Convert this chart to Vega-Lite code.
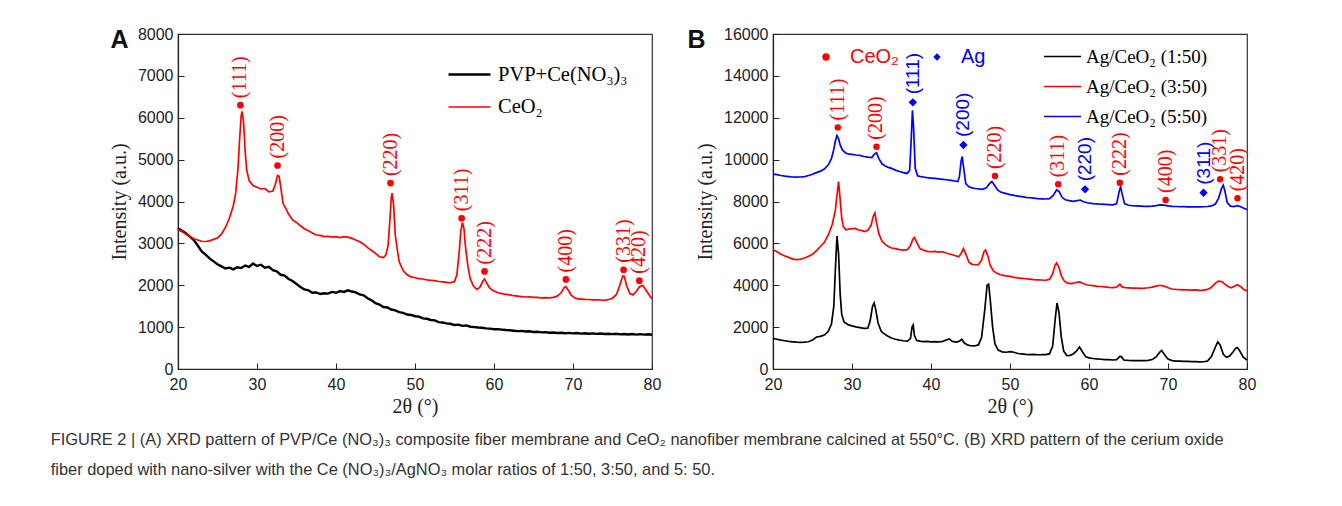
{
"$schema": "https://vega.github.io/schema/vega-lite/v6.json",
"background": "white",
"padding": {"left": 50, "top": 25, "right": 5, "bottom": 2},
"bounds": "flush",
"spacing": 121,
"resolve": {"scale": {"stroke": "independent", "fill": "independent", "shape": "independent", "strokeWidth": "independent"}, "legend": {"stroke": "independent", "fill": "independent", "shape": "independent"}},
"title": {"text": ["FIGURE 2 | (A) XRD pattern of PVP/Ce (NO₃)₃ composite fiber membrane and CeO₂ nanofiber membrane calcined at 550°C. (B) XRD pattern of the cerium oxide", "fiber doped with nano-silver with the Ce (NO₃)₃/AgNO₃ molar ratios of 1:50, 3:50, and 5: 50."], "orient": "bottom", "anchor": "start", "frame": "bounds", "font": "Liberation Sans", "fontSize": 16.4, "fontWeight": "normal", "color": "#333333", "lineHeight": 30, "offset": 15, "dx": -58},
"datasets": {
"A_lines": [
{"x":20,"y":3360,"s":"PVP+Ce(NO₃)₃"},{"x":20.5,"y":3300,"s":"PVP+Ce(NO₃)₃"},{"x":21,"y":3240,"s":"PVP+Ce(NO₃)₃"},{"x":21.5,"y":3160,"s":"PVP+Ce(NO₃)₃"},{"x":22,"y":3080,"s":"PVP+Ce(NO₃)₃"},{"x":22.5,"y":2950,"s":"PVP+Ce(NO₃)₃"},{"x":23,"y":2810,"s":"PVP+Ce(NO₃)₃"},{"x":23.5,"y":2730,"s":"PVP+Ce(NO₃)₃"},{"x":24,"y":2640,"s":"PVP+Ce(NO₃)₃"},{"x":24.5,"y":2570,"s":"PVP+Ce(NO₃)₃"},{"x":25,"y":2500,"s":"PVP+Ce(NO₃)₃"},{"x":25.5,"y":2450,"s":"PVP+Ce(NO₃)₃"},{"x":26,"y":2400,"s":"PVP+Ce(NO₃)₃"},{"x":26.5,"y":2420,"s":"PVP+Ce(NO₃)₃"},{"x":27,"y":2380,"s":"PVP+Ce(NO₃)₃"},{"x":27.5,"y":2430,"s":"PVP+Ce(NO₃)₃"},{"x":28,"y":2410,"s":"PVP+Ce(NO₃)₃"},{"x":28.5,"y":2470,"s":"PVP+Ce(NO₃)₃"},{"x":29,"y":2440,"s":"PVP+Ce(NO₃)₃"},{"x":29.5,"y":2520,"s":"PVP+Ce(NO₃)₃"},{"x":30,"y":2460,"s":"PVP+Ce(NO₃)₃"},{"x":30.5,"y":2490,"s":"PVP+Ce(NO₃)₃"},{"x":31,"y":2420,"s":"PVP+Ce(NO₃)₃"},{"x":31.5,"y":2440,"s":"PVP+Ce(NO₃)₃"},{"x":32,"y":2360,"s":"PVP+Ce(NO₃)₃"},{"x":32.5,"y":2330,"s":"PVP+Ce(NO₃)₃"},{"x":33,"y":2250,"s":"PVP+Ce(NO₃)₃"},{"x":33.5,"y":2230,"s":"PVP+Ce(NO₃)₃"},{"x":34,"y":2150,"s":"PVP+Ce(NO₃)₃"},{"x":34.5,"y":2100,"s":"PVP+Ce(NO₃)₃"},{"x":35,"y":2030,"s":"PVP+Ce(NO₃)₃"},{"x":35.5,"y":1960,"s":"PVP+Ce(NO₃)₃"},{"x":36,"y":1900,"s":"PVP+Ce(NO₃)₃"},{"x":36.5,"y":1880,"s":"PVP+Ce(NO₃)₃"},{"x":37,"y":1820,"s":"PVP+Ce(NO₃)₃"},{"x":37.5,"y":1830,"s":"PVP+Ce(NO₃)₃"},{"x":38,"y":1790,"s":"PVP+Ce(NO₃)₃"},{"x":38.5,"y":1810,"s":"PVP+Ce(NO₃)₃"},{"x":39,"y":1800,"s":"PVP+Ce(NO₃)₃"},{"x":39.5,"y":1840,"s":"PVP+Ce(NO₃)₃"},{"x":40,"y":1820,"s":"PVP+Ce(NO₃)₃"},{"x":40.5,"y":1860,"s":"PVP+Ce(NO₃)₃"},{"x":41,"y":1840,"s":"PVP+Ce(NO₃)₃"},{"x":41.5,"y":1880,"s":"PVP+Ce(NO₃)₃"},{"x":42,"y":1850,"s":"PVP+Ce(NO₃)₃"},{"x":42.5,"y":1830,"s":"PVP+Ce(NO₃)₃"},{"x":43,"y":1780,"s":"PVP+Ce(NO₃)₃"},{"x":43.5,"y":1760,"s":"PVP+Ce(NO₃)₃"},{"x":44,"y":1690,"s":"PVP+Ce(NO₃)₃"},{"x":44.5,"y":1640,"s":"PVP+Ce(NO₃)₃"},{"x":45,"y":1570,"s":"PVP+Ce(NO₃)₃"},{"x":45.5,"y":1540,"s":"PVP+Ce(NO₃)₃"},{"x":46,"y":1480,"s":"PVP+Ce(NO₃)₃"},{"x":46.5,"y":1470,"s":"PVP+Ce(NO₃)₃"},{"x":47,"y":1420,"s":"PVP+Ce(NO₃)₃"},{"x":47.5,"y":1400,"s":"PVP+Ce(NO₃)₃"},{"x":48,"y":1360,"s":"PVP+Ce(NO₃)₃"},{"x":48.5,"y":1340,"s":"PVP+Ce(NO₃)₃"},{"x":49,"y":1300,"s":"PVP+Ce(NO₃)₃"},{"x":49.5,"y":1290,"s":"PVP+Ce(NO₃)₃"},{"x":50,"y":1260,"s":"PVP+Ce(NO₃)₃"},{"x":50.5,"y":1250,"s":"PVP+Ce(NO₃)₃"},{"x":51,"y":1210,"s":"PVP+Ce(NO₃)₃"},{"x":51.5,"y":1200,"s":"PVP+Ce(NO₃)₃"},{"x":52,"y":1170,"s":"PVP+Ce(NO₃)₃"},{"x":52.5,"y":1160,"s":"PVP+Ce(NO₃)₃"},{"x":53,"y":1120,"s":"PVP+Ce(NO₃)₃"},{"x":53.5,"y":1110,"s":"PVP+Ce(NO₃)₃"},{"x":54,"y":1090,"s":"PVP+Ce(NO₃)₃"},{"x":54.5,"y":1080,"s":"PVP+Ce(NO₃)₃"},{"x":55,"y":1050,"s":"PVP+Ce(NO₃)₃"},{"x":55.5,"y":1060,"s":"PVP+Ce(NO₃)₃"},{"x":56,"y":1030,"s":"PVP+Ce(NO₃)₃"},{"x":56.5,"y":1040,"s":"PVP+Ce(NO₃)₃"},{"x":57,"y":1010,"s":"PVP+Ce(NO₃)₃"},{"x":57.5,"y":1000,"s":"PVP+Ce(NO₃)₃"},{"x":58,"y":990,"s":"PVP+Ce(NO₃)₃"},{"x":58.5,"y":985,"s":"PVP+Ce(NO₃)₃"},{"x":59,"y":970,"s":"PVP+Ce(NO₃)₃"},{"x":59.5,"y":965,"s":"PVP+Ce(NO₃)₃"},{"x":60,"y":950,"s":"PVP+Ce(NO₃)₃"},{"x":60.5,"y":952,"s":"PVP+Ce(NO₃)₃"},{"x":61,"y":940,"s":"PVP+Ce(NO₃)₃"},{"x":61.5,"y":930,"s":"PVP+Ce(NO₃)₃"},{"x":62,"y":925,"s":"PVP+Ce(NO₃)₃"},{"x":62.5,"y":915,"s":"PVP+Ce(NO₃)₃"},{"x":63,"y":905,"s":"PVP+Ce(NO₃)₃"},{"x":63.5,"y":910,"s":"PVP+Ce(NO₃)₃"},{"x":64,"y":895,"s":"PVP+Ce(NO₃)₃"},{"x":64.5,"y":900,"s":"PVP+Ce(NO₃)₃"},{"x":65,"y":885,"s":"PVP+Ce(NO₃)₃"},{"x":65.5,"y":890,"s":"PVP+Ce(NO₃)₃"},{"x":66,"y":875,"s":"PVP+Ce(NO₃)₃"},{"x":66.5,"y":880,"s":"PVP+Ce(NO₃)₃"},{"x":67,"y":865,"s":"PVP+Ce(NO₃)₃"},{"x":67.5,"y":872,"s":"PVP+Ce(NO₃)₃"},{"x":68,"y":860,"s":"PVP+Ce(NO₃)₃"},{"x":68.5,"y":866,"s":"PVP+Ce(NO₃)₃"},{"x":69,"y":855,"s":"PVP+Ce(NO₃)₃"},{"x":69.5,"y":862,"s":"PVP+Ce(NO₃)₃"},{"x":70,"y":850,"s":"PVP+Ce(NO₃)₃"},{"x":70.5,"y":858,"s":"PVP+Ce(NO₃)₃"},{"x":71,"y":845,"s":"PVP+Ce(NO₃)₃"},{"x":71.5,"y":853,"s":"PVP+Ce(NO₃)₃"},{"x":72,"y":842,"s":"PVP+Ce(NO₃)₃"},{"x":72.5,"y":850,"s":"PVP+Ce(NO₃)₃"},{"x":73,"y":838,"s":"PVP+Ce(NO₃)₃"},{"x":73.5,"y":846,"s":"PVP+Ce(NO₃)₃"},{"x":74,"y":835,"s":"PVP+Ce(NO₃)₃"},{"x":74.5,"y":843,"s":"PVP+Ce(NO₃)₃"},{"x":75,"y":832,"s":"PVP+Ce(NO₃)₃"},{"x":75.5,"y":840,"s":"PVP+Ce(NO₃)₃"},{"x":76,"y":828,"s":"PVP+Ce(NO₃)₃"},{"x":76.5,"y":837,"s":"PVP+Ce(NO₃)₃"},{"x":77,"y":825,"s":"PVP+Ce(NO₃)₃"},{"x":77.5,"y":834,"s":"PVP+Ce(NO₃)₃"},{"x":78,"y":822,"s":"PVP+Ce(NO₃)₃"},{"x":78.5,"y":832,"s":"PVP+Ce(NO₃)₃"},{"x":79,"y":820,"s":"PVP+Ce(NO₃)₃"},{"x":79.5,"y":830,"s":"PVP+Ce(NO₃)₃"},{"x":80,"y":818,"s":"PVP+Ce(NO₃)₃"},
{"x":20,"y":3330,"s":"CeO₂"},{"x":20.5,"y":3280,"s":"CeO₂"},{"x":21,"y":3220,"s":"CeO₂"},{"x":21.5,"y":3170,"s":"CeO₂"},{"x":22,"y":3110,"s":"CeO₂"},{"x":22.5,"y":3080,"s":"CeO₂"},{"x":23,"y":3050,"s":"CeO₂"},{"x":23.5,"y":3045,"s":"CeO₂"},{"x":24,"y":3060,"s":"CeO₂"},{"x":24.5,"y":3095,"s":"CeO₂"},{"x":25,"y":3130,"s":"CeO₂"},{"x":25.5,"y":3220,"s":"CeO₂"},{"x":26,"y":3380,"s":"CeO₂"},{"x":26.5,"y":3600,"s":"CeO₂"},{"x":27,"y":3900,"s":"CeO₂"},{"x":27.3,"y":4200,"s":"CeO₂"},{"x":27.6,"y":4800,"s":"CeO₂"},{"x":27.8,"y":5500,"s":"CeO₂"},{"x":28,"y":6050,"s":"CeO₂"},{"x":28.1,"y":6150,"s":"CeO₂"},{"x":28.3,"y":5900,"s":"CeO₂"},{"x":28.5,"y":5200,"s":"CeO₂"},{"x":28.7,"y":4750,"s":"CeO₂"},{"x":29,"y":4500,"s":"CeO₂"},{"x":29.5,"y":4380,"s":"CeO₂"},{"x":30,"y":4340,"s":"CeO₂"},{"x":30.5,"y":4300,"s":"CeO₂"},{"x":31,"y":4310,"s":"CeO₂"},{"x":31.5,"y":4230,"s":"CeO₂"},{"x":32,"y":4250,"s":"CeO₂"},{"x":32.3,"y":4400,"s":"CeO₂"},{"x":32.6,"y":4620,"s":"CeO₂"},{"x":32.8,"y":4600,"s":"CeO₂"},{"x":33,"y":4350,"s":"CeO₂"},{"x":33.3,"y":3950,"s":"CeO₂"},{"x":33.6,"y":3850,"s":"CeO₂"},{"x":34,"y":3700,"s":"CeO₂"},{"x":34.5,"y":3560,"s":"CeO₂"},{"x":35,"y":3500,"s":"CeO₂"},{"x":35.5,"y":3420,"s":"CeO₂"},{"x":36,"y":3350,"s":"CeO₂"},{"x":36.5,"y":3300,"s":"CeO₂"},{"x":37,"y":3250,"s":"CeO₂"},{"x":37.5,"y":3200,"s":"CeO₂"},{"x":38,"y":3190,"s":"CeO₂"},{"x":38.5,"y":3160,"s":"CeO₂"},{"x":39,"y":3170,"s":"CeO₂"},{"x":39.5,"y":3150,"s":"CeO₂"},{"x":40,"y":3160,"s":"CeO₂"},{"x":40.5,"y":3140,"s":"CeO₂"},{"x":41,"y":3160,"s":"CeO₂"},{"x":41.5,"y":3150,"s":"CeO₂"},{"x":42,"y":3120,"s":"CeO₂"},{"x":42.5,"y":3080,"s":"CeO₂"},{"x":43,"y":3040,"s":"CeO₂"},{"x":43.5,"y":2980,"s":"CeO₂"},{"x":44,"y":2900,"s":"CeO₂"},{"x":44.5,"y":2830,"s":"CeO₂"},{"x":45,"y":2760,"s":"CeO₂"},{"x":45.5,"y":2680,"s":"CeO₂"},{"x":46,"y":2660,"s":"CeO₂"},{"x":46.3,"y":2720,"s":"CeO₂"},{"x":46.6,"y":2950,"s":"CeO₂"},{"x":46.8,"y":3500,"s":"CeO₂"},{"x":47,"y":4100,"s":"CeO₂"},{"x":47.1,"y":4200,"s":"CeO₂"},{"x":47.3,"y":3900,"s":"CeO₂"},{"x":47.5,"y":3200,"s":"CeO₂"},{"x":47.8,"y":2800,"s":"CeO₂"},{"x":48,"y":2560,"s":"CeO₂"},{"x":48.5,"y":2350,"s":"CeO₂"},{"x":49,"y":2250,"s":"CeO₂"},{"x":49.5,"y":2200,"s":"CeO₂"},{"x":50,"y":2180,"s":"CeO₂"},{"x":50.5,"y":2160,"s":"CeO₂"},{"x":51,"y":2150,"s":"CeO₂"},{"x":51.5,"y":2130,"s":"CeO₂"},{"x":52,"y":2120,"s":"CeO₂"},{"x":52.5,"y":2110,"s":"CeO₂"},{"x":53,"y":2090,"s":"CeO₂"},{"x":53.5,"y":2080,"s":"CeO₂"},{"x":54,"y":2070,"s":"CeO₂"},{"x":54.5,"y":2060,"s":"CeO₂"},{"x":55,"y":2090,"s":"CeO₂"},{"x":55.3,"y":2250,"s":"CeO₂"},{"x":55.6,"y":2800,"s":"CeO₂"},{"x":55.8,"y":3300,"s":"CeO₂"},{"x":56,"y":3500,"s":"CeO₂"},{"x":56.2,"y":3350,"s":"CeO₂"},{"x":56.4,"y":2900,"s":"CeO₂"},{"x":56.7,"y":2450,"s":"CeO₂"},{"x":57,"y":2150,"s":"CeO₂"},{"x":57.4,"y":1980,"s":"CeO₂"},{"x":57.8,"y":1900,"s":"CeO₂"},{"x":58.2,"y":1950,"s":"CeO₂"},{"x":58.6,"y":2100,"s":"CeO₂"},{"x":58.8,"y":2150,"s":"CeO₂"},{"x":59,"y":2080,"s":"CeO₂"},{"x":59.4,"y":1950,"s":"CeO₂"},{"x":59.8,"y":1880,"s":"CeO₂"},{"x":60.5,"y":1820,"s":"CeO₂"},{"x":61,"y":1800,"s":"CeO₂"},{"x":61.5,"y":1780,"s":"CeO₂"},{"x":62,"y":1770,"s":"CeO₂"},{"x":62.5,"y":1750,"s":"CeO₂"},{"x":63,"y":1740,"s":"CeO₂"},{"x":63.5,"y":1730,"s":"CeO₂"},{"x":64,"y":1720,"s":"CeO₂"},{"x":64.5,"y":1725,"s":"CeO₂"},{"x":65,"y":1710,"s":"CeO₂"},{"x":65.5,"y":1712,"s":"CeO₂"},{"x":66,"y":1700,"s":"CeO₂"},{"x":66.5,"y":1705,"s":"CeO₂"},{"x":67,"y":1700,"s":"CeO₂"},{"x":67.5,"y":1710,"s":"CeO₂"},{"x":68,"y":1740,"s":"CeO₂"},{"x":68.5,"y":1820,"s":"CeO₂"},{"x":68.9,"y":1950,"s":"CeO₂"},{"x":69.1,"y":1970,"s":"CeO₂"},{"x":69.4,"y":1880,"s":"CeO₂"},{"x":69.8,"y":1760,"s":"CeO₂"},{"x":70.2,"y":1700,"s":"CeO₂"},{"x":70.5,"y":1680,"s":"CeO₂"},{"x":71,"y":1670,"s":"CeO₂"},{"x":71.5,"y":1662,"s":"CeO₂"},{"x":72,"y":1660,"s":"CeO₂"},{"x":72.5,"y":1650,"s":"CeO₂"},{"x":73,"y":1652,"s":"CeO₂"},{"x":73.5,"y":1648,"s":"CeO₂"},{"x":74,"y":1640,"s":"CeO₂"},{"x":74.5,"y":1660,"s":"CeO₂"},{"x":75,"y":1690,"s":"CeO₂"},{"x":75.5,"y":1780,"s":"CeO₂"},{"x":75.9,"y":1990,"s":"CeO₂"},{"x":76.3,"y":2220,"s":"CeO₂"},{"x":76.5,"y":2210,"s":"CeO₂"},{"x":76.8,"y":1980,"s":"CeO₂"},{"x":77.2,"y":1800,"s":"CeO₂"},{"x":77.6,"y":1770,"s":"CeO₂"},{"x":78,"y":1850,"s":"CeO₂"},{"x":78.4,"y":1960,"s":"CeO₂"},{"x":78.8,"y":2000,"s":"CeO₂"},{"x":79.2,"y":1900,"s":"CeO₂"},{"x":79.6,"y":1780,"s":"CeO₂"},{"x":80,"y":1670,"s":"CeO₂"}
],
"A_peaks": [
{"x":27.9,"y":6300,"hkl":"(111)"},{"x":32.6,"y":4860,"hkl":"(200)"},{"x":46.9,"y":4440,"hkl":"(220)"},{"x":55.9,"y":3600,"hkl":"(311)"},{"x":58.8,"y":2330,"hkl":"(222)"},{"x":69.1,"y":2140,"hkl":"(400)"},{"x":76.4,"y":2370,"hkl":"(331)"},{"x":78.4,"y":2110,"hkl":"(420)"}
],
"B_lines": [
{"x":20,"y":1460,"s":"Ag/CeO₂ (1:50)"},{"x":20.5,"y":1420,"s":"Ag/CeO₂ (1:50)"},{"x":21,"y":1380,"s":"Ag/CeO₂ (1:50)"},{"x":21.5,"y":1350,"s":"Ag/CeO₂ (1:50)"},{"x":22,"y":1320,"s":"Ag/CeO₂ (1:50)"},{"x":22.5,"y":1300,"s":"Ag/CeO₂ (1:50)"},{"x":23,"y":1280,"s":"Ag/CeO₂ (1:50)"},{"x":23.5,"y":1270,"s":"Ag/CeO₂ (1:50)"},{"x":24,"y":1280,"s":"Ag/CeO₂ (1:50)"},{"x":24.5,"y":1300,"s":"Ag/CeO₂ (1:50)"},{"x":25,"y":1380,"s":"Ag/CeO₂ (1:50)"},{"x":25.5,"y":1530,"s":"Ag/CeO₂ (1:50)"},{"x":26,"y":1560,"s":"Ag/CeO₂ (1:50)"},{"x":26.5,"y":1620,"s":"Ag/CeO₂ (1:50)"},{"x":27,"y":1800,"s":"Ag/CeO₂ (1:50)"},{"x":27.4,"y":2150,"s":"Ag/CeO₂ (1:50)"},{"x":27.7,"y":3000,"s":"Ag/CeO₂ (1:50)"},{"x":27.9,"y":4800,"s":"Ag/CeO₂ (1:50)"},{"x":28.1,"y":6350,"s":"Ag/CeO₂ (1:50)"},{"x":28.3,"y":5500,"s":"Ag/CeO₂ (1:50)"},{"x":28.5,"y":3600,"s":"Ag/CeO₂ (1:50)"},{"x":28.7,"y":2600,"s":"Ag/CeO₂ (1:50)"},{"x":29,"y":2250,"s":"Ag/CeO₂ (1:50)"},{"x":29.5,"y":2120,"s":"Ag/CeO₂ (1:50)"},{"x":30,"y":2060,"s":"Ag/CeO₂ (1:50)"},{"x":30.5,"y":2010,"s":"Ag/CeO₂ (1:50)"},{"x":31,"y":1980,"s":"Ag/CeO₂ (1:50)"},{"x":31.5,"y":1940,"s":"Ag/CeO₂ (1:50)"},{"x":32,"y":1950,"s":"Ag/CeO₂ (1:50)"},{"x":32.3,"y":2300,"s":"Ag/CeO₂ (1:50)"},{"x":32.6,"y":3000,"s":"Ag/CeO₂ (1:50)"},{"x":32.8,"y":3150,"s":"Ag/CeO₂ (1:50)"},{"x":33,"y":2850,"s":"Ag/CeO₂ (1:50)"},{"x":33.3,"y":2200,"s":"Ag/CeO₂ (1:50)"},{"x":33.7,"y":1800,"s":"Ag/CeO₂ (1:50)"},{"x":34,"y":1700,"s":"Ag/CeO₂ (1:50)"},{"x":34.5,"y":1580,"s":"Ag/CeO₂ (1:50)"},{"x":35,"y":1480,"s":"Ag/CeO₂ (1:50)"},{"x":35.5,"y":1420,"s":"Ag/CeO₂ (1:50)"},{"x":36,"y":1380,"s":"Ag/CeO₂ (1:50)"},{"x":36.5,"y":1350,"s":"Ag/CeO₂ (1:50)"},{"x":37,"y":1330,"s":"Ag/CeO₂ (1:50)"},{"x":37.4,"y":1450,"s":"Ag/CeO₂ (1:50)"},{"x":37.6,"y":2000,"s":"Ag/CeO₂ (1:50)"},{"x":37.75,"y":2100,"s":"Ag/CeO₂ (1:50)"},{"x":37.9,"y":1600,"s":"Ag/CeO₂ (1:50)"},{"x":38.2,"y":1360,"s":"Ag/CeO₂ (1:50)"},{"x":38.6,"y":1330,"s":"Ag/CeO₂ (1:50)"},{"x":39,"y":1310,"s":"Ag/CeO₂ (1:50)"},{"x":39.5,"y":1320,"s":"Ag/CeO₂ (1:50)"},{"x":40,"y":1300,"s":"Ag/CeO₂ (1:50)"},{"x":40.5,"y":1310,"s":"Ag/CeO₂ (1:50)"},{"x":41,"y":1300,"s":"Ag/CeO₂ (1:50)"},{"x":41.5,"y":1320,"s":"Ag/CeO₂ (1:50)"},{"x":42,"y":1400,"s":"Ag/CeO₂ (1:50)"},{"x":42.3,"y":1440,"s":"Ag/CeO₂ (1:50)"},{"x":42.7,"y":1320,"s":"Ag/CeO₂ (1:50)"},{"x":43.2,"y":1280,"s":"Ag/CeO₂ (1:50)"},{"x":43.6,"y":1330,"s":"Ag/CeO₂ (1:50)"},{"x":43.9,"y":1420,"s":"Ag/CeO₂ (1:50)"},{"x":44.2,"y":1250,"s":"Ag/CeO₂ (1:50)"},{"x":44.6,"y":1150,"s":"Ag/CeO₂ (1:50)"},{"x":45,"y":1110,"s":"Ag/CeO₂ (1:50)"},{"x":45.5,"y":1100,"s":"Ag/CeO₂ (1:50)"},{"x":46,"y":1150,"s":"Ag/CeO₂ (1:50)"},{"x":46.4,"y":1500,"s":"Ag/CeO₂ (1:50)"},{"x":46.8,"y":2800,"s":"Ag/CeO₂ (1:50)"},{"x":47.1,"y":4000,"s":"Ag/CeO₂ (1:50)"},{"x":47.3,"y":4050,"s":"Ag/CeO₂ (1:50)"},{"x":47.5,"y":3300,"s":"Ag/CeO₂ (1:50)"},{"x":47.8,"y":2000,"s":"Ag/CeO₂ (1:50)"},{"x":48.1,"y":1200,"s":"Ag/CeO₂ (1:50)"},{"x":48.5,"y":900,"s":"Ag/CeO₂ (1:50)"},{"x":49,"y":820,"s":"Ag/CeO₂ (1:50)"},{"x":49.5,"y":800,"s":"Ag/CeO₂ (1:50)"},{"x":50,"y":830,"s":"Ag/CeO₂ (1:50)"},{"x":50.5,"y":800,"s":"Ag/CeO₂ (1:50)"},{"x":51,"y":740,"s":"Ag/CeO₂ (1:50)"},{"x":51.5,"y":720,"s":"Ag/CeO₂ (1:50)"},{"x":52,"y":700,"s":"Ag/CeO₂ (1:50)"},{"x":52.5,"y":690,"s":"Ag/CeO₂ (1:50)"},{"x":53,"y":695,"s":"Ag/CeO₂ (1:50)"},{"x":53.5,"y":680,"s":"Ag/CeO₂ (1:50)"},{"x":54,"y":682,"s":"Ag/CeO₂ (1:50)"},{"x":54.5,"y":690,"s":"Ag/CeO₂ (1:50)"},{"x":55,"y":720,"s":"Ag/CeO₂ (1:50)"},{"x":55.4,"y":1100,"s":"Ag/CeO₂ (1:50)"},{"x":55.7,"y":2300,"s":"Ag/CeO₂ (1:50)"},{"x":55.95,"y":3150,"s":"Ag/CeO₂ (1:50)"},{"x":56.2,"y":2700,"s":"Ag/CeO₂ (1:50)"},{"x":56.5,"y":1500,"s":"Ag/CeO₂ (1:50)"},{"x":56.8,"y":850,"s":"Ag/CeO₂ (1:50)"},{"x":57.2,"y":640,"s":"Ag/CeO₂ (1:50)"},{"x":57.6,"y":650,"s":"Ag/CeO₂ (1:50)"},{"x":58,"y":720,"s":"Ag/CeO₂ (1:50)"},{"x":58.4,"y":850,"s":"Ag/CeO₂ (1:50)"},{"x":58.8,"y":1050,"s":"Ag/CeO₂ (1:50)"},{"x":59.2,"y":800,"s":"Ag/CeO₂ (1:50)"},{"x":59.6,"y":580,"s":"Ag/CeO₂ (1:50)"},{"x":60,"y":530,"s":"Ag/CeO₂ (1:50)"},{"x":60.5,"y":500,"s":"Ag/CeO₂ (1:50)"},{"x":61,"y":480,"s":"Ag/CeO₂ (1:50)"},{"x":61.5,"y":465,"s":"Ag/CeO₂ (1:50)"},{"x":62,"y":450,"s":"Ag/CeO₂ (1:50)"},{"x":62.5,"y":445,"s":"Ag/CeO₂ (1:50)"},{"x":63,"y":430,"s":"Ag/CeO₂ (1:50)"},{"x":63.5,"y":450,"s":"Ag/CeO₂ (1:50)"},{"x":63.9,"y":600,"s":"Ag/CeO₂ (1:50)"},{"x":64.1,"y":590,"s":"Ag/CeO₂ (1:50)"},{"x":64.4,"y":430,"s":"Ag/CeO₂ (1:50)"},{"x":65,"y":410,"s":"Ag/CeO₂ (1:50)"},{"x":65.5,"y":402,"s":"Ag/CeO₂ (1:50)"},{"x":66,"y":400,"s":"Ag/CeO₂ (1:50)"},{"x":66.5,"y":405,"s":"Ag/CeO₂ (1:50)"},{"x":67,"y":400,"s":"Ag/CeO₂ (1:50)"},{"x":67.5,"y":410,"s":"Ag/CeO₂ (1:50)"},{"x":68,"y":450,"s":"Ag/CeO₂ (1:50)"},{"x":68.5,"y":580,"s":"Ag/CeO₂ (1:50)"},{"x":69,"y":820,"s":"Ag/CeO₂ (1:50)"},{"x":69.2,"y":880,"s":"Ag/CeO₂ (1:50)"},{"x":69.5,"y":720,"s":"Ag/CeO₂ (1:50)"},{"x":70,"y":470,"s":"Ag/CeO₂ (1:50)"},{"x":70.5,"y":400,"s":"Ag/CeO₂ (1:50)"},{"x":71,"y":380,"s":"Ag/CeO₂ (1:50)"},{"x":71.5,"y":372,"s":"Ag/CeO₂ (1:50)"},{"x":72,"y":360,"s":"Ag/CeO₂ (1:50)"},{"x":72.5,"y":365,"s":"Ag/CeO₂ (1:50)"},{"x":73,"y":350,"s":"Ag/CeO₂ (1:50)"},{"x":73.5,"y":355,"s":"Ag/CeO₂ (1:50)"},{"x":74,"y":340,"s":"Ag/CeO₂ (1:50)"},{"x":74.5,"y":345,"s":"Ag/CeO₂ (1:50)"},{"x":75,"y":380,"s":"Ag/CeO₂ (1:50)"},{"x":75.5,"y":600,"s":"Ag/CeO₂ (1:50)"},{"x":76,"y":1050,"s":"Ag/CeO₂ (1:50)"},{"x":76.3,"y":1300,"s":"Ag/CeO₂ (1:50)"},{"x":76.6,"y":1150,"s":"Ag/CeO₂ (1:50)"},{"x":77,"y":700,"s":"Ag/CeO₂ (1:50)"},{"x":77.4,"y":560,"s":"Ag/CeO₂ (1:50)"},{"x":77.8,"y":620,"s":"Ag/CeO₂ (1:50)"},{"x":78.2,"y":800,"s":"Ag/CeO₂ (1:50)"},{"x":78.6,"y":1000,"s":"Ag/CeO₂ (1:50)"},{"x":78.8,"y":1020,"s":"Ag/CeO₂ (1:50)"},{"x":79.1,"y":850,"s":"Ag/CeO₂ (1:50)"},{"x":79.5,"y":580,"s":"Ag/CeO₂ (1:50)"},{"x":80,"y":420,"s":"Ag/CeO₂ (1:50)"},
{"x":20,"y":5700,"s":"Ag/CeO₂ (3:50)"},{"x":20.5,"y":5600,"s":"Ag/CeO₂ (3:50)"},{"x":21,"y":5480,"s":"Ag/CeO₂ (3:50)"},{"x":21.5,"y":5400,"s":"Ag/CeO₂ (3:50)"},{"x":22,"y":5330,"s":"Ag/CeO₂ (3:50)"},{"x":22.5,"y":5250,"s":"Ag/CeO₂ (3:50)"},{"x":23,"y":5220,"s":"Ag/CeO₂ (3:50)"},{"x":23.5,"y":5250,"s":"Ag/CeO₂ (3:50)"},{"x":24,"y":5300,"s":"Ag/CeO₂ (3:50)"},{"x":24.5,"y":5380,"s":"Ag/CeO₂ (3:50)"},{"x":25,"y":5480,"s":"Ag/CeO₂ (3:50)"},{"x":25.5,"y":5650,"s":"Ag/CeO₂ (3:50)"},{"x":26,"y":5850,"s":"Ag/CeO₂ (3:50)"},{"x":26.5,"y":6050,"s":"Ag/CeO₂ (3:50)"},{"x":27,"y":6400,"s":"Ag/CeO₂ (3:50)"},{"x":27.5,"y":6900,"s":"Ag/CeO₂ (3:50)"},{"x":27.9,"y":7600,"s":"Ag/CeO₂ (3:50)"},{"x":28.1,"y":8300,"s":"Ag/CeO₂ (3:50)"},{"x":28.3,"y":8950,"s":"Ag/CeO₂ (3:50)"},{"x":28.5,"y":8100,"s":"Ag/CeO₂ (3:50)"},{"x":28.7,"y":7200,"s":"Ag/CeO₂ (3:50)"},{"x":28.9,"y":6800,"s":"Ag/CeO₂ (3:50)"},{"x":29.2,"y":6650,"s":"Ag/CeO₂ (3:50)"},{"x":29.6,"y":6680,"s":"Ag/CeO₂ (3:50)"},{"x":30,"y":6700,"s":"Ag/CeO₂ (3:50)"},{"x":30.4,"y":6720,"s":"Ag/CeO₂ (3:50)"},{"x":30.8,"y":6640,"s":"Ag/CeO₂ (3:50)"},{"x":31.2,"y":6620,"s":"Ag/CeO₂ (3:50)"},{"x":31.6,"y":6560,"s":"Ag/CeO₂ (3:50)"},{"x":32,"y":6620,"s":"Ag/CeO₂ (3:50)"},{"x":32.4,"y":6850,"s":"Ag/CeO₂ (3:50)"},{"x":32.7,"y":7300,"s":"Ag/CeO₂ (3:50)"},{"x":32.9,"y":7450,"s":"Ag/CeO₂ (3:50)"},{"x":33.1,"y":7000,"s":"Ag/CeO₂ (3:50)"},{"x":33.4,"y":6450,"s":"Ag/CeO₂ (3:50)"},{"x":33.8,"y":6100,"s":"Ag/CeO₂ (3:50)"},{"x":34.2,"y":5950,"s":"Ag/CeO₂ (3:50)"},{"x":34.6,"y":5850,"s":"Ag/CeO₂ (3:50)"},{"x":35,"y":5780,"s":"Ag/CeO₂ (3:50)"},{"x":35.5,"y":5750,"s":"Ag/CeO₂ (3:50)"},{"x":36,"y":5700,"s":"Ag/CeO₂ (3:50)"},{"x":36.5,"y":5680,"s":"Ag/CeO₂ (3:50)"},{"x":37,"y":5700,"s":"Ag/CeO₂ (3:50)"},{"x":37.4,"y":5900,"s":"Ag/CeO₂ (3:50)"},{"x":37.7,"y":6200,"s":"Ag/CeO₂ (3:50)"},{"x":37.9,"y":6280,"s":"Ag/CeO₂ (3:50)"},{"x":38.2,"y":6050,"s":"Ag/CeO₂ (3:50)"},{"x":38.6,"y":5750,"s":"Ag/CeO₂ (3:50)"},{"x":39,"y":5680,"s":"Ag/CeO₂ (3:50)"},{"x":39.5,"y":5620,"s":"Ag/CeO₂ (3:50)"},{"x":40,"y":5600,"s":"Ag/CeO₂ (3:50)"},{"x":40.5,"y":5620,"s":"Ag/CeO₂ (3:50)"},{"x":41,"y":5580,"s":"Ag/CeO₂ (3:50)"},{"x":41.5,"y":5600,"s":"Ag/CeO₂ (3:50)"},{"x":42,"y":5530,"s":"Ag/CeO₂ (3:50)"},{"x":42.5,"y":5480,"s":"Ag/CeO₂ (3:50)"},{"x":43,"y":5420,"s":"Ag/CeO₂ (3:50)"},{"x":43.5,"y":5360,"s":"Ag/CeO₂ (3:50)"},{"x":43.8,"y":5500,"s":"Ag/CeO₂ (3:50)"},{"x":44.1,"y":5750,"s":"Ag/CeO₂ (3:50)"},{"x":44.4,"y":5500,"s":"Ag/CeO₂ (3:50)"},{"x":44.8,"y":5100,"s":"Ag/CeO₂ (3:50)"},{"x":45.2,"y":5000,"s":"Ag/CeO₂ (3:50)"},{"x":45.6,"y":4980,"s":"Ag/CeO₂ (3:50)"},{"x":46,"y":4980,"s":"Ag/CeO₂ (3:50)"},{"x":46.4,"y":5200,"s":"Ag/CeO₂ (3:50)"},{"x":46.7,"y":5600,"s":"Ag/CeO₂ (3:50)"},{"x":46.9,"y":5680,"s":"Ag/CeO₂ (3:50)"},{"x":47.2,"y":5400,"s":"Ag/CeO₂ (3:50)"},{"x":47.5,"y":4950,"s":"Ag/CeO₂ (3:50)"},{"x":47.9,"y":4680,"s":"Ag/CeO₂ (3:50)"},{"x":48.3,"y":4580,"s":"Ag/CeO₂ (3:50)"},{"x":48.8,"y":4500,"s":"Ag/CeO₂ (3:50)"},{"x":49.3,"y":4460,"s":"Ag/CeO₂ (3:50)"},{"x":50,"y":4420,"s":"Ag/CeO₂ (3:50)"},{"x":50.5,"y":4380,"s":"Ag/CeO₂ (3:50)"},{"x":51,"y":4350,"s":"Ag/CeO₂ (3:50)"},{"x":51.5,"y":4330,"s":"Ag/CeO₂ (3:50)"},{"x":52,"y":4310,"s":"Ag/CeO₂ (3:50)"},{"x":52.5,"y":4290,"s":"Ag/CeO₂ (3:50)"},{"x":53,"y":4270,"s":"Ag/CeO₂ (3:50)"},{"x":53.5,"y":4260,"s":"Ag/CeO₂ (3:50)"},{"x":54,"y":4250,"s":"Ag/CeO₂ (3:50)"},{"x":54.5,"y":4240,"s":"Ag/CeO₂ (3:50)"},{"x":55,"y":4280,"s":"Ag/CeO₂ (3:50)"},{"x":55.4,"y":4550,"s":"Ag/CeO₂ (3:50)"},{"x":55.7,"y":4950,"s":"Ag/CeO₂ (3:50)"},{"x":55.9,"y":5070,"s":"Ag/CeO₂ (3:50)"},{"x":56.2,"y":4850,"s":"Ag/CeO₂ (3:50)"},{"x":56.5,"y":4450,"s":"Ag/CeO₂ (3:50)"},{"x":56.9,"y":4180,"s":"Ag/CeO₂ (3:50)"},{"x":57.3,"y":4100,"s":"Ag/CeO₂ (3:50)"},{"x":57.8,"y":4080,"s":"Ag/CeO₂ (3:50)"},{"x":58.3,"y":4130,"s":"Ag/CeO₂ (3:50)"},{"x":58.8,"y":4160,"s":"Ag/CeO₂ (3:50)"},{"x":59.3,"y":4080,"s":"Ag/CeO₂ (3:50)"},{"x":59.8,"y":4010,"s":"Ag/CeO₂ (3:50)"},{"x":60.5,"y":3980,"s":"Ag/CeO₂ (3:50)"},{"x":61,"y":3950,"s":"Ag/CeO₂ (3:50)"},{"x":61.5,"y":3940,"s":"Ag/CeO₂ (3:50)"},{"x":62,"y":3920,"s":"Ag/CeO₂ (3:50)"},{"x":62.5,"y":3900,"s":"Ag/CeO₂ (3:50)"},{"x":63,"y":3890,"s":"Ag/CeO₂ (3:50)"},{"x":63.5,"y":3910,"s":"Ag/CeO₂ (3:50)"},{"x":63.9,"y":4050,"s":"Ag/CeO₂ (3:50)"},{"x":64.2,"y":3920,"s":"Ag/CeO₂ (3:50)"},{"x":64.6,"y":3880,"s":"Ag/CeO₂ (3:50)"},{"x":65,"y":3870,"s":"Ag/CeO₂ (3:50)"},{"x":65.5,"y":3860,"s":"Ag/CeO₂ (3:50)"},{"x":66,"y":3865,"s":"Ag/CeO₂ (3:50)"},{"x":66.5,"y":3855,"s":"Ag/CeO₂ (3:50)"},{"x":67,"y":3860,"s":"Ag/CeO₂ (3:50)"},{"x":67.5,"y":3880,"s":"Ag/CeO₂ (3:50)"},{"x":68,"y":3910,"s":"Ag/CeO₂ (3:50)"},{"x":68.5,"y":3960,"s":"Ag/CeO₂ (3:50)"},{"x":69,"y":4000,"s":"Ag/CeO₂ (3:50)"},{"x":69.5,"y":3960,"s":"Ag/CeO₂ (3:50)"},{"x":70,"y":3880,"s":"Ag/CeO₂ (3:50)"},{"x":70.5,"y":3820,"s":"Ag/CeO₂ (3:50)"},{"x":71,"y":3800,"s":"Ag/CeO₂ (3:50)"},{"x":71.5,"y":3790,"s":"Ag/CeO₂ (3:50)"},{"x":72,"y":3780,"s":"Ag/CeO₂ (3:50)"},{"x":72.5,"y":3785,"s":"Ag/CeO₂ (3:50)"},{"x":73,"y":3770,"s":"Ag/CeO₂ (3:50)"},{"x":73.5,"y":3775,"s":"Ag/CeO₂ (3:50)"},{"x":74,"y":3760,"s":"Ag/CeO₂ (3:50)"},{"x":74.5,"y":3770,"s":"Ag/CeO₂ (3:50)"},{"x":75,"y":3800,"s":"Ag/CeO₂ (3:50)"},{"x":75.5,"y":3900,"s":"Ag/CeO₂ (3:50)"},{"x":76,"y":4100,"s":"Ag/CeO₂ (3:50)"},{"x":76.4,"y":4200,"s":"Ag/CeO₂ (3:50)"},{"x":76.8,"y":4180,"s":"Ag/CeO₂ (3:50)"},{"x":77.2,"y":4050,"s":"Ag/CeO₂ (3:50)"},{"x":77.6,"y":3940,"s":"Ag/CeO₂ (3:50)"},{"x":78,"y":3880,"s":"Ag/CeO₂ (3:50)"},{"x":78.4,"y":3950,"s":"Ag/CeO₂ (3:50)"},{"x":78.8,"y":4020,"s":"Ag/CeO₂ (3:50)"},{"x":79.2,"y":3930,"s":"Ag/CeO₂ (3:50)"},{"x":79.6,"y":3800,"s":"Ag/CeO₂ (3:50)"},{"x":80,"y":3720,"s":"Ag/CeO₂ (3:50)"},
{"x":20,"y":9310,"s":"Ag/CeO₂ (5:50)"},{"x":20.5,"y":9280,"s":"Ag/CeO₂ (5:50)"},{"x":21,"y":9240,"s":"Ag/CeO₂ (5:50)"},{"x":21.5,"y":9210,"s":"Ag/CeO₂ (5:50)"},{"x":22,"y":9190,"s":"Ag/CeO₂ (5:50)"},{"x":22.5,"y":9170,"s":"Ag/CeO₂ (5:50)"},{"x":23,"y":9160,"s":"Ag/CeO₂ (5:50)"},{"x":23.5,"y":9170,"s":"Ag/CeO₂ (5:50)"},{"x":24,"y":9190,"s":"Ag/CeO₂ (5:50)"},{"x":24.5,"y":9240,"s":"Ag/CeO₂ (5:50)"},{"x":25,"y":9300,"s":"Ag/CeO₂ (5:50)"},{"x":25.5,"y":9380,"s":"Ag/CeO₂ (5:50)"},{"x":26,"y":9450,"s":"Ag/CeO₂ (5:50)"},{"x":26.5,"y":9550,"s":"Ag/CeO₂ (5:50)"},{"x":27,"y":9750,"s":"Ag/CeO₂ (5:50)"},{"x":27.4,"y":10050,"s":"Ag/CeO₂ (5:50)"},{"x":27.7,"y":10500,"s":"Ag/CeO₂ (5:50)"},{"x":27.9,"y":10900,"s":"Ag/CeO₂ (5:50)"},{"x":28.1,"y":11150,"s":"Ag/CeO₂ (5:50)"},{"x":28.3,"y":11000,"s":"Ag/CeO₂ (5:50)"},{"x":28.5,"y":10700,"s":"Ag/CeO₂ (5:50)"},{"x":28.8,"y":10450,"s":"Ag/CeO₂ (5:50)"},{"x":29.2,"y":10320,"s":"Ag/CeO₂ (5:50)"},{"x":29.6,"y":10260,"s":"Ag/CeO₂ (5:50)"},{"x":30,"y":10250,"s":"Ag/CeO₂ (5:50)"},{"x":30.5,"y":10220,"s":"Ag/CeO₂ (5:50)"},{"x":31,"y":10200,"s":"Ag/CeO₂ (5:50)"},{"x":31.5,"y":10150,"s":"Ag/CeO₂ (5:50)"},{"x":32,"y":10120,"s":"Ag/CeO₂ (5:50)"},{"x":32.5,"y":10100,"s":"Ag/CeO₂ (5:50)"},{"x":32.8,"y":10250,"s":"Ag/CeO₂ (5:50)"},{"x":33.1,"y":10330,"s":"Ag/CeO₂ (5:50)"},{"x":33.4,"y":10050,"s":"Ag/CeO₂ (5:50)"},{"x":33.8,"y":9800,"s":"Ag/CeO₂ (5:50)"},{"x":34.2,"y":9700,"s":"Ag/CeO₂ (5:50)"},{"x":34.6,"y":9630,"s":"Ag/CeO₂ (5:50)"},{"x":35,"y":9580,"s":"Ag/CeO₂ (5:50)"},{"x":35.5,"y":9500,"s":"Ag/CeO₂ (5:50)"},{"x":36,"y":9430,"s":"Ag/CeO₂ (5:50)"},{"x":36.5,"y":9380,"s":"Ag/CeO₂ (5:50)"},{"x":37,"y":9340,"s":"Ag/CeO₂ (5:50)"},{"x":37.3,"y":9500,"s":"Ag/CeO₂ (5:50)"},{"x":37.5,"y":11000,"s":"Ag/CeO₂ (5:50)"},{"x":37.65,"y":12350,"s":"Ag/CeO₂ (5:50)"},{"x":37.8,"y":11500,"s":"Ag/CeO₂ (5:50)"},{"x":38,"y":9600,"s":"Ag/CeO₂ (5:50)"},{"x":38.3,"y":9230,"s":"Ag/CeO₂ (5:50)"},{"x":38.7,"y":9190,"s":"Ag/CeO₂ (5:50)"},{"x":39,"y":9170,"s":"Ag/CeO₂ (5:50)"},{"x":39.5,"y":9140,"s":"Ag/CeO₂ (5:50)"},{"x":40,"y":9120,"s":"Ag/CeO₂ (5:50)"},{"x":40.5,"y":9100,"s":"Ag/CeO₂ (5:50)"},{"x":41,"y":9080,"s":"Ag/CeO₂ (5:50)"},{"x":41.5,"y":9060,"s":"Ag/CeO₂ (5:50)"},{"x":42,"y":9040,"s":"Ag/CeO₂ (5:50)"},{"x":42.5,"y":9010,"s":"Ag/CeO₂ (5:50)"},{"x":43,"y":8980,"s":"Ag/CeO₂ (5:50)"},{"x":43.4,"y":8950,"s":"Ag/CeO₂ (5:50)"},{"x":43.6,"y":9200,"s":"Ag/CeO₂ (5:50)"},{"x":43.8,"y":9900,"s":"Ag/CeO₂ (5:50)"},{"x":43.95,"y":10150,"s":"Ag/CeO₂ (5:50)"},{"x":44.1,"y":9700,"s":"Ag/CeO₂ (5:50)"},{"x":44.4,"y":8850,"s":"Ag/CeO₂ (5:50)"},{"x":44.8,"y":8700,"s":"Ag/CeO₂ (5:50)"},{"x":45.2,"y":8650,"s":"Ag/CeO₂ (5:50)"},{"x":45.6,"y":8620,"s":"Ag/CeO₂ (5:50)"},{"x":46,"y":8600,"s":"Ag/CeO₂ (5:50)"},{"x":46.5,"y":8580,"s":"Ag/CeO₂ (5:50)"},{"x":47,"y":8650,"s":"Ag/CeO₂ (5:50)"},{"x":47.4,"y":8850,"s":"Ag/CeO₂ (5:50)"},{"x":47.7,"y":8950,"s":"Ag/CeO₂ (5:50)"},{"x":48,"y":8800,"s":"Ag/CeO₂ (5:50)"},{"x":48.4,"y":8560,"s":"Ag/CeO₂ (5:50)"},{"x":48.8,"y":8450,"s":"Ag/CeO₂ (5:50)"},{"x":49.3,"y":8400,"s":"Ag/CeO₂ (5:50)"},{"x":50,"y":8330,"s":"Ag/CeO₂ (5:50)"},{"x":50.5,"y":8290,"s":"Ag/CeO₂ (5:50)"},{"x":51,"y":8260,"s":"Ag/CeO₂ (5:50)"},{"x":51.5,"y":8230,"s":"Ag/CeO₂ (5:50)"},{"x":52,"y":8200,"s":"Ag/CeO₂ (5:50)"},{"x":52.5,"y":8180,"s":"Ag/CeO₂ (5:50)"},{"x":53,"y":8160,"s":"Ag/CeO₂ (5:50)"},{"x":53.5,"y":8140,"s":"Ag/CeO₂ (5:50)"},{"x":54,"y":8130,"s":"Ag/CeO₂ (5:50)"},{"x":54.5,"y":8120,"s":"Ag/CeO₂ (5:50)"},{"x":55,"y":8140,"s":"Ag/CeO₂ (5:50)"},{"x":55.5,"y":8300,"s":"Ag/CeO₂ (5:50)"},{"x":55.9,"y":8560,"s":"Ag/CeO₂ (5:50)"},{"x":56.2,"y":8480,"s":"Ag/CeO₂ (5:50)"},{"x":56.6,"y":8200,"s":"Ag/CeO₂ (5:50)"},{"x":57,"y":8080,"s":"Ag/CeO₂ (5:50)"},{"x":57.5,"y":8040,"s":"Ag/CeO₂ (5:50)"},{"x":58,"y":8010,"s":"Ag/CeO₂ (5:50)"},{"x":58.5,"y":8040,"s":"Ag/CeO₂ (5:50)"},{"x":58.9,"y":8070,"s":"Ag/CeO₂ (5:50)"},{"x":59.3,"y":7990,"s":"Ag/CeO₂ (5:50)"},{"x":59.8,"y":7940,"s":"Ag/CeO₂ (5:50)"},{"x":60.5,"y":7900,"s":"Ag/CeO₂ (5:50)"},{"x":61,"y":7890,"s":"Ag/CeO₂ (5:50)"},{"x":61.5,"y":7870,"s":"Ag/CeO₂ (5:50)"},{"x":62,"y":7860,"s":"Ag/CeO₂ (5:50)"},{"x":62.5,"y":7850,"s":"Ag/CeO₂ (5:50)"},{"x":63,"y":7840,"s":"Ag/CeO₂ (5:50)"},{"x":63.5,"y":7900,"s":"Ag/CeO₂ (5:50)"},{"x":63.8,"y":8450,"s":"Ag/CeO₂ (5:50)"},{"x":64,"y":8700,"s":"Ag/CeO₂ (5:50)"},{"x":64.2,"y":8350,"s":"Ag/CeO₂ (5:50)"},{"x":64.5,"y":7900,"s":"Ag/CeO₂ (5:50)"},{"x":65,"y":7820,"s":"Ag/CeO₂ (5:50)"},{"x":65.5,"y":7800,"s":"Ag/CeO₂ (5:50)"},{"x":66,"y":7790,"s":"Ag/CeO₂ (5:50)"},{"x":66.5,"y":7780,"s":"Ag/CeO₂ (5:50)"},{"x":67,"y":7770,"s":"Ag/CeO₂ (5:50)"},{"x":67.5,"y":7770,"s":"Ag/CeO₂ (5:50)"},{"x":68,"y":7780,"s":"Ag/CeO₂ (5:50)"},{"x":68.5,"y":7800,"s":"Ag/CeO₂ (5:50)"},{"x":69,"y":7840,"s":"Ag/CeO₂ (5:50)"},{"x":69.5,"y":7830,"s":"Ag/CeO₂ (5:50)"},{"x":70,"y":7790,"s":"Ag/CeO₂ (5:50)"},{"x":70.5,"y":7770,"s":"Ag/CeO₂ (5:50)"},{"x":71,"y":7760,"s":"Ag/CeO₂ (5:50)"},{"x":71.5,"y":7750,"s":"Ag/CeO₂ (5:50)"},{"x":72,"y":7752,"s":"Ag/CeO₂ (5:50)"},{"x":72.5,"y":7748,"s":"Ag/CeO₂ (5:50)"},{"x":73,"y":7740,"s":"Ag/CeO₂ (5:50)"},{"x":73.5,"y":7745,"s":"Ag/CeO₂ (5:50)"},{"x":74,"y":7740,"s":"Ag/CeO₂ (5:50)"},{"x":74.5,"y":7750,"s":"Ag/CeO₂ (5:50)"},{"x":75,"y":7760,"s":"Ag/CeO₂ (5:50)"},{"x":75.5,"y":7790,"s":"Ag/CeO₂ (5:50)"},{"x":76,"y":7880,"s":"Ag/CeO₂ (5:50)"},{"x":76.4,"y":8150,"s":"Ag/CeO₂ (5:50)"},{"x":76.8,"y":8650,"s":"Ag/CeO₂ (5:50)"},{"x":77,"y":8780,"s":"Ag/CeO₂ (5:50)"},{"x":77.2,"y":8500,"s":"Ag/CeO₂ (5:50)"},{"x":77.5,"y":7950,"s":"Ag/CeO₂ (5:50)"},{"x":77.9,"y":7780,"s":"Ag/CeO₂ (5:50)"},{"x":78.3,"y":7760,"s":"Ag/CeO₂ (5:50)"},{"x":78.8,"y":7800,"s":"Ag/CeO₂ (5:50)"},{"x":79.2,"y":7750,"s":"Ag/CeO₂ (5:50)"},{"x":79.6,"y":7680,"s":"Ag/CeO₂ (5:50)"},{"x":80,"y":7620,"s":"Ag/CeO₂ (5:50)"}
],
"B_peaks": [
{"x":28.2,"y":11540,"hkl":"(111)","phase":"CeO₂"},{"x":33.1,"y":10620,"hkl":"(200)","phase":"CeO₂"},{"x":48.1,"y":9215,"hkl":"(220)","phase":"CeO₂"},{"x":56.1,"y":8820,"hkl":"(311)","phase":"CeO₂"},{"x":63.9,"y":8900,"hkl":"(222)","phase":"CeO₂"},{"x":69.7,"y":8070,"hkl":"(400)","phase":"CeO₂"},{"x":76.6,"y":9060,"hkl":"(331)","phase":"CeO₂"},{"x":78.8,"y":8150,"hkl":"(420)","phase":"CeO₂"},
{"x":37.7,"y":12735,"hkl":"(111)","phase":"Ag"},{"x":44.1,"y":10700,"hkl":"(200)","phase":"Ag"},{"x":59.5,"y":8580,"hkl":"(220)","phase":"Ag"},{"x":74.5,"y":8420,"hkl":"(311)","phase":"Ag"}
]
},
"hconcat": [
{
"width": 474, "height": 335,
"title": {"text": "A", "anchor": "start", "frame": "bounds", "font": "Liberation Sans", "fontSize": 25, "fontWeight": "bold", "color": "#111111", "dy": 27, "dx": 1, "offset": 0},
"layer": [
{"data": {"name": "A_lines"}, "mark": {"type": "line"},
 "encoding": {
  "x": {"field": "x", "type": "quantitative", "title": "2θ (°)", "scale": {"domain": [20, 80], "nice": false, "zero": false},
   "axis": {"values": [20,25,30,35,40,45,50,55,60,65,70,75,80], "labelExpr": "datum.value % 10 === 0 ? datum.label : ''", "format": "d"}},
  "y": {"field": "y", "type": "quantitative", "title": "Intensity (a.u.)", "scale": {"domain": [0, 8000], "nice": false},
   "axis": {"values": [0,500,1000,1500,2000,2500,3000,3500,4000,4500,5000,5500,6000,6500,7000,7500,8000], "labelExpr": "datum.value % 1000 === 0 ? datum.label : ''", "format": "d"}},
  "stroke": {"field": "s", "type": "nominal", "scale": {"domain": ["PVP+Ce(NO₃)₃", "CeO₂"], "range": ["#000000", "#ff0000"]},
   "legend": {"title": null, "orient": "none", "legendX": 269, "legendY": 18, "symbolType": "stroke", "symbolSize": 1764, "rowPadding": -11, "labelFontSize": 20.5, "labelOffset": 6}},
  "strokeWidth": {"field": "s", "type": "nominal", "scale": {"domain": ["PVP+Ce(NO₃)₃", "CeO₂"], "range": [2.4, 1.7]}, "legend": null}
 }},
{"data": {"name": "A_peaks"}, "mark": {"type": "point", "filled": true, "shape": "circle", "size": 45, "fill": "#ff0000", "opacity": 1},
 "encoding": {
  "x": {"field": "x", "type": "quantitative", "title": "2θ (°)", "scale": {"domain": [20, 80], "nice": false, "zero": false}},
  "y": {"field": "y", "type": "quantitative", "title": "Intensity (a.u.)", "scale": {"domain": [0, 8000], "nice": false}}
 }},
{"data": {"name": "A_peaks"}, "mark": {"type": "text", "angle": 270, "align": "left", "baseline": "middle", "dx": 7, "font": "Liberation Serif", "fontSize": 20, "fill": "#ff0000"},
 "encoding": {
  "x": {"field": "x", "type": "quantitative", "title": "2θ (°)", "scale": {"domain": [20, 80], "nice": false, "zero": false}},
  "y": {"field": "y", "type": "quantitative", "title": "Intensity (a.u.)", "scale": {"domain": [0, 8000], "nice": false}},
  "text": {"field": "hkl", "type": "nominal"}
 }}
]
},
{
"width": 474, "height": 335,
"title": {"text": "B", "anchor": "start", "frame": "bounds", "font": "Liberation Sans", "fontSize": 25, "fontWeight": "bold", "color": "#111111", "dy": 27, "dx": -8, "offset": 0},
"layer": [
{"data": {"name": "B_lines"}, "mark": {"type": "line", "strokeWidth": 1.7},
 "encoding": {
  "x": {"field": "x", "type": "quantitative", "title": "2θ (°)", "scale": {"domain": [20, 80], "nice": false, "zero": false},
   "axis": {"values": [20,25,30,35,40,45,50,55,60,65,70,75,80], "labelExpr": "datum.value % 10 === 0 ? datum.label : ''", "format": "d"}},
  "y": {"field": "y", "type": "quantitative", "title": "Intensity (a.u.)", "scale": {"domain": [0, 16000], "nice": false},
   "axis": {"values": [0,1000,2000,3000,4000,5000,6000,7000,8000,9000,10000,11000,12000,13000,14000,15000,16000], "labelExpr": "datum.value % 2000 === 0 ? datum.label : ''", "format": "d"}},
  "stroke": {"field": "s", "type": "nominal", "scale": {"domain": ["Ag/CeO₂ (1:50)", "Ag/CeO₂ (3:50)", "Ag/CeO₂ (5:50)"], "range": ["#000000", "#ff0000", "#0000ff"]},
   "legend": {"title": null, "orient": "none", "legendX": 270, "legendY": 3, "symbolType": "stroke", "symbolSize": 1369, "rowPadding": -7}}
 }},
{"data": {"name": "B_peaks"}, "transform": [{"filter": "datum.phase === 'CeO₂'"}], "mark": {"type": "point", "filled": true, "opacity": 1, "size": 42},
 "encoding": {
  "x": {"field": "x", "type": "quantitative", "title": "2θ (°)", "scale": {"domain": [20, 80], "nice": false, "zero": false}},
  "y": {"field": "y", "type": "quantitative", "title": "Intensity (a.u.)", "scale": {"domain": [0, 16000], "nice": false}},
  "fill": {"field": "phase", "type": "nominal", "scale": {"domain": ["CeO₂", "Ag"], "range": ["#ff0000", "#0000ff"]},
   "legend": {"title": null, "orient": "none", "legendX": 43, "legendY": 13, "direction": "horizontal", "columns": 2, "labelFont": "Liberation Sans", "labelFontSize": 20, "labelOffset": 14, "columnPadding": 28, "symbolSize": 55, "labelColor": {"expr": "datum.value === 'Ag' ? '#0000ff' : '#ff0000'"}}},
  "shape": {"field": "phase", "type": "nominal", "scale": {"domain": ["CeO₂", "Ag"], "range": ["circle", "diamond"]},
   "legend": {"title": null, "orient": "none", "legendX": 43, "legendY": 13, "direction": "horizontal", "columns": 2, "labelFont": "Liberation Sans", "labelFontSize": 20, "labelOffset": 14, "columnPadding": 28, "symbolSize": 55, "labelColor": {"expr": "datum.value === 'Ag' ? '#0000ff' : '#ff0000'"}}}
 }},
{"data": {"name": "B_peaks"}, "transform": [{"filter": "datum.phase === 'Ag'"}], "mark": {"type": "point", "filled": true, "opacity": 1, "size": 70},
 "encoding": {
  "x": {"field": "x", "type": "quantitative", "title": "2θ (°)", "scale": {"domain": [20, 80], "nice": false, "zero": false}},
  "y": {"field": "y", "type": "quantitative", "title": "Intensity (a.u.)", "scale": {"domain": [0, 16000], "nice": false}},
  "fill": {"field": "phase", "type": "nominal", "scale": {"domain": ["CeO₂", "Ag"], "range": ["#ff0000", "#0000ff"]}},
  "shape": {"field": "phase", "type": "nominal", "scale": {"domain": ["CeO₂", "Ag"], "range": ["circle", "diamond"]}}
 }},
{"data": {"name": "B_peaks"}, "transform": [{"filter": "datum.phase === 'CeO₂'"}], "mark": {"type": "text", "angle": 270, "align": "left", "baseline": "middle", "dx": 7, "font": "Liberation Serif", "fontSize": 20, "fill": "#ff0000"},
 "encoding": {
  "x": {"field": "x", "type": "quantitative", "title": "2θ (°)", "scale": {"domain": [20, 80], "nice": false, "zero": false}},
  "y": {"field": "y", "type": "quantitative", "title": "Intensity (a.u.)", "scale": {"domain": [0, 16000], "nice": false}},
  "text": {"field": "hkl", "type": "nominal"}
 }},
{"data": {"name": "B_peaks"}, "transform": [{"filter": "datum.phase === 'Ag'"}], "mark": {"type": "text", "angle": 270, "align": "left", "baseline": "middle", "dx": 8, "font": "Liberation Sans", "fontSize": 19, "fill": "#0000ff"},
 "encoding": {
  "x": {"field": "x", "type": "quantitative", "title": "2θ (°)", "scale": {"domain": [20, 80], "nice": false, "zero": false}},
  "y": {"field": "y", "type": "quantitative", "title": "Intensity (a.u.)", "scale": {"domain": [0, 16000], "nice": false}},
  "text": {"field": "hkl", "type": "nominal"}
 }}
]
}
],
"config": {
 "view": {"stroke": "#333333", "strokeWidth": 1.2},
 "axis": {"grid": false, "labelFont": "Liberation Sans", "labelFontSize": 16, "labelColor": "#222222", "titleFont": "Liberation Serif", "titleFontSize": 20, "titleFontWeight": "normal", "titleColor": "#222222", "domainColor": "#222222", "domainWidth": 1.2, "tickColor": "#222222", "tickSize": -6, "tickWidth": 1, "labelOverlap": false, "labelFlush": false},
 "axisX": {"labelPadding": 13, "titlePadding": 4},
 "axisY": {"labelPadding": 11, "titlePadding": 8},
 "legend": {"labelFont": "Liberation Serif", "labelFontSize": 19, "padding": 0, "symbolStrokeWidth": 1.5, "labelOffset": 4}
}
}
